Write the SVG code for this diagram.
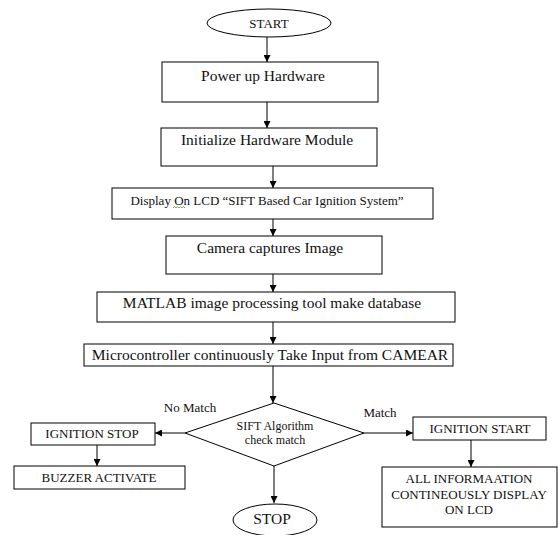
<svg xmlns="http://www.w3.org/2000/svg" width="558" height="535" viewBox="0 0 558 535" font-family="'Liberation Serif', 'Times New Roman', serif">
<style>
.b{fill:#fff;stroke:#000;stroke-width:1}
.t{font-family:'Liberation Serif','Times New Roman',serif;fill:#111;text-anchor:middle}
.m{font-size:15.5px}
.s{font-size:13px}
.d{font-size:12px}
.c{stroke:#000;stroke-width:1;fill:none;marker-end:url(#ah)}
</style>
<defs>
<marker id="ah" viewBox="0 0 10 10" refX="10" refY="5" markerWidth="7" markerHeight="7" markerUnits="userSpaceOnUse" orient="auto">
<path d="M0,0 L10,5 L0,10 z" fill="#000"/>
</marker>
</defs>
<rect width="558" height="535" fill="#fff"/>
<g id="connectors">
<line class="c" x1="267" y1="37" x2="267" y2="62"/>
<line class="c" x1="267" y1="102" x2="267" y2="128"/>
<line class="c" x1="273" y1="166" x2="273" y2="188"/>
<line class="c" x1="273" y1="219" x2="273" y2="236"/>
<line class="c" x1="273" y1="274" x2="273" y2="292"/>
<line class="c" x1="273" y1="322" x2="273" y2="344"/>
<line class="c" x1="273" y1="366" x2="273" y2="403"/>
<line class="c" x1="185" y1="433" x2="155" y2="433"/>
<line class="c" x1="364" y1="433" x2="413" y2="433"/>
<line class="c" x1="97" y1="445" x2="97" y2="466"/>
<line class="c" x1="471" y1="440" x2="471" y2="467"/>
<line class="c" x1="274" y1="466" x2="274" y2="503"/>
<text class="t s" x="190" y="412">No Match</text>
<text class="t s" x="380" y="417">Match</text>
</g>
<g id="start">
<ellipse class="b" cx="269" cy="23" rx="62" ry="14"/>
<text class="t s" x="269" y="28">START</text>
</g>
<g id="power">
<rect class="b" x="162" y="62" width="216" height="40"/>
<text class="t m" x="263" y="81">Power up Hardware</text>
</g>
<g id="init">
<rect class="b" x="161" y="128" width="216" height="38"/>
<text class="t m" x="267" y="145">Initialize Hardware Module</text>
</g>
<g id="display">
<rect class="b" x="112" y="188" width="321" height="31"/>
<text class="t s" x="267" y="205">Display On LCD “SIFT Based Car Ignition System”</text>
<path d="M173,208 l1.5,-1.5 l1.5,1.5 l1.5,-1.5 l1.5,1.5 l1.5,-1.5 l1.5,1.5 l1.5,-1.5 l1.5,1.5" stroke="#3a3" stroke-width="0.8" fill="none"/>
</g>
<g id="camera">
<rect class="b" x="166" y="236" width="216" height="38"/>
<text class="t m" x="270" y="253">Camera captures Image</text>
</g>
<g id="matlab">
<rect class="b" x="97" y="292" width="358" height="30"/>
<text class="t m" x="272" y="308">MATLAB image processing tool make database</text>
</g>
<g id="micro">
<rect class="b" x="84" y="344" width="369" height="22"/>
<text class="t m" x="270" y="360">Microcontroller continuously Take Input from CAMEAR</text>
</g>
<g id="decision">
<polygon class="b" points="274,403 364,433 274,466 185,433"/>
<text class="t d" x="275" y="430">SIFT Algorithm</text>
<text class="t d" x="275" y="444">check match</text>
</g>
<g id="ignition-stop">
<rect class="b" x="31" y="423" width="124" height="22"/>
<text class="t s" x="92" y="438">IGNITION STOP</text>
</g>
<g id="buzzer">
<rect class="b" x="14" y="466" width="171" height="23"/>
<text class="t s" x="99" y="482">BUZZER ACTIVATE</text>
</g>
<g id="ignition-start">
<rect class="b" x="413" y="417" width="133" height="23"/>
<text class="t s" x="480" y="433">IGNITION START</text>
</g>
<g id="info">
<rect class="b" x="382" y="467" width="175" height="60"/>
<text class="t s" x="469" y="483">ALL INFORMAATION</text>
<text class="t s" x="469" y="499">CONTINEOUSLY DISPLAY</text>
<text class="t s" x="469" y="514">ON LCD</text>
</g>
<g id="stop">
<ellipse class="b" cx="275" cy="520" rx="42" ry="16"/>
<text class="t m" x="272" y="524">STOP</text>
</g>
</svg>
